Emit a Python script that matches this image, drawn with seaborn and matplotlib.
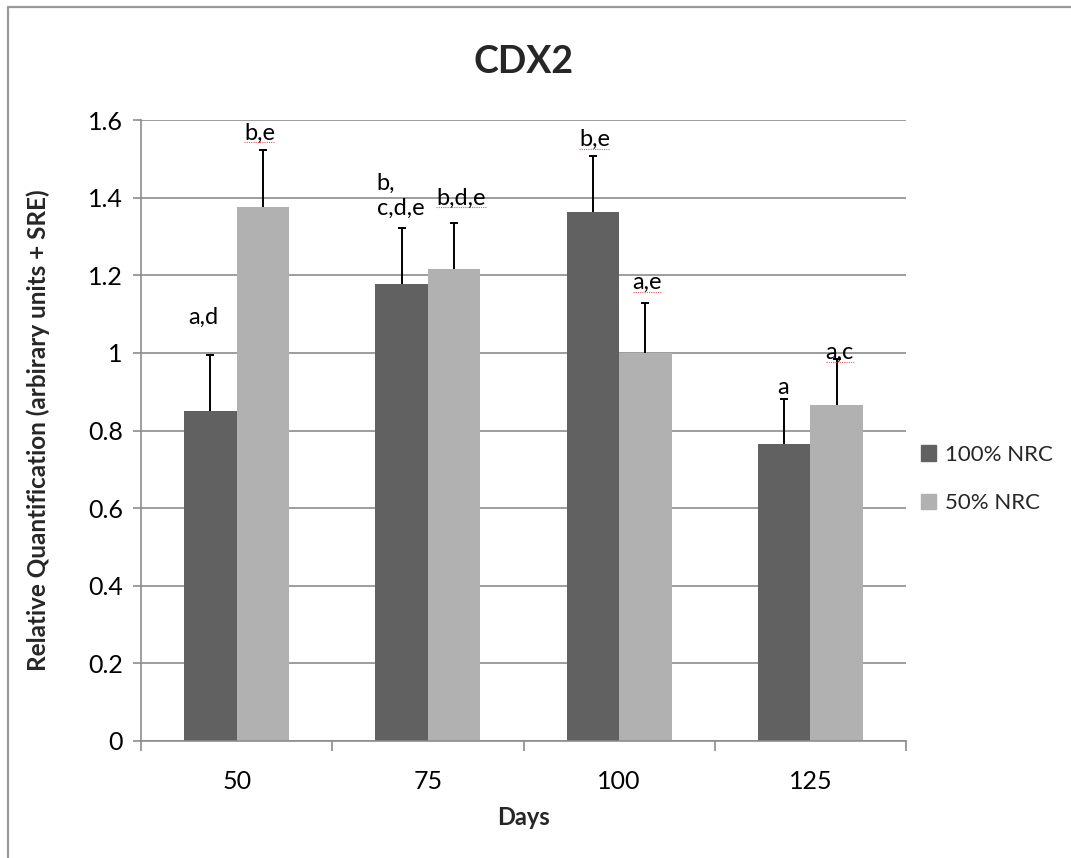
import numpy as np
import pandas as pd
import matplotlib
matplotlib.use("Agg")
import matplotlib.pyplot as plt
import seaborn as sns
from matplotlib.patches import Rectangle
from matplotlib.lines import Line2D
from matplotlib.ticker import FixedLocator, FuncFormatter

# ---- data ----
days = ["50", "75", "100", "125"]
groups = ["100% NRC", "50% NRC"]
rq_100 = [0.850, 1.178, 1.363, 0.765]
rq_50 = [1.376, 1.216, 1.000, 0.866]
sre_100 = [0.145, 0.144, 0.144, 0.116]
sre_50 = [0.147, 0.119, 0.128, 0.118]
letters_100 = ["a,d", "b,\nc,d,e", "b,e", "a"]
letters_50 = ["b,e", "b,d,e", "a,e", "a,c"]
# letters flagged by the spell checker (red dotted underline)
flag_100 = [False, False, True, False]
flag_50 = [True, True, True, True]

# label offsets from the top of each error bar (pixels)
off_100 = [(-7, 37), (-1, 32), (2, 17), (-1, 12)]
off_50 = [(-3, 17), (7, 25), (2, 21), (3, 7)]

df = pd.DataFrame({
    "Days": days * 2,
    "Group": [groups[0]] * 4 + [groups[1]] * 4,
    "RQ": rq_100 + rq_50,
})

sns.set_theme(style="white")
plt.rcParams["font.family"] = ["Lato", "DejaVu Sans"]

dark = "#616161"
light = "#b1b1b1"
gridc = "#8c8c8c"

fig = plt.figure(figsize=(10.71, 8.58), dpi=100)
ax = fig.add_axes([141 / 1071, 1 - 741 / 858, (906 - 141) / 1071, (741 - 120) / 858])

sns.barplot(data=df, x="Days", y="RQ", hue="Group", order=days, hue_order=groups,
            palette=[dark, light], width=0.55, gap=0, errorbar=None,
            saturation=1, edgecolor="none", linewidth=0, ax=ax, legend=True)

ax.set_ylim(0, 1.6)
ax.set_xlim(-0.5, len(days) - 0.5)
ax.yaxis.set_major_locator(FixedLocator(np.arange(0, 1.61, 0.2)))
ax.yaxis.set_major_formatter(FuncFormatter(lambda v, p: f"{v:g}"))
ax.grid(axis="y", color=gridc, linewidth=1.2)
ax.set_axisbelow(True)

for s in ["top", "right"]:
    ax.spines[s].set_visible(False)
for s in ["left", "bottom"]:
    ax.spines[s].set_color(gridc)
    ax.spines[s].set_linewidth(1.2)

ax.tick_params(axis="y", which="major", length=6, width=1.2, color=gridc,
               direction="out", labelsize=18, pad=7, left=True)
ax.tick_params(axis="x", which="major", length=0, labelsize=18, pad=21)
ax.xaxis.set_minor_locator(FixedLocator(np.arange(-0.5, len(days), 1.0)))
ax.tick_params(axis="x", which="minor", length=7, width=1.2, color=gridc,
               direction="out", bottom=True)
for lab in ax.get_xticklabels() + ax.get_yticklabels():
    lab.set_color("black")

ax.set_xlabel("Days", fontsize=17, fontweight="bold", labelpad=9)
ax.set_ylabel("Relative Quantification (arbirary units + SRE)", fontsize=17.5,
              fontweight="bold", labelpad=27)
ax.set_title("CDX2", fontsize=27, fontweight="bold", pad=34)

# upward-only error bars and significance letters
n = len(days)
bars = ax.patches[:2 * n]
series = [(rq_100, sre_100, letters_100, off_100, flag_100),
          (rq_50, sre_50, letters_50, off_50, flag_50)]
flagged_texts = []
for gi, (vals, errs, lets, offs, flags) in enumerate(series):
    for i in range(n):
        b = bars[gi * n + i]
        xc = b.get_x() + b.get_width() / 2
        eb = ax.errorbar(xc, vals[i], yerr=[[0], [errs[i]]], fmt="none",
                         ecolor="black", elinewidth=1.4, capsize=3, capthick=1.4)
        eb[1][0].set_visible(False)  # no cap at the bar top
        t = ax.annotate(lets[i], (xc, vals[i] + errs[i]), xytext=offs[i],
                        textcoords="offset pixels", ha="center", va="center",
                        multialignment="left", fontsize=17, color="black")
        if flags[i]:
            flagged_texts.append(t)

# legend
handles = [Rectangle((0, 0), 1, 1, color=dark), Rectangle((0, 0), 1, 1, color=light)]
ax.legend(handles, groups, loc="center left", bbox_to_anchor=(912 / 1071, 1 - 479 / 858),
          bbox_transform=fig.transFigure, frameon=False, fontsize=16,
          handlelength=0.7, handleheight=0.7, handletextpad=0.4, labelspacing=1.3,
          borderaxespad=0)

# chart-area frame (top and left edges)
fx, fy = 8 / 1071, 1 - 7 / 858
for xs, ys in [([fx, fx], [0, fy]), ([fx, 1], [fy, fy])]:
    fig.add_artist(Line2D(xs, ys, transform=fig.transFigure, color="#9a9a9a",
                          linewidth=1.6, zorder=0))

# spell-check underlines under flagged letters
fig.canvas.draw()
rend = fig.canvas.get_renderer()
for t in flagged_texts:
    bb = t.get_window_extent(rend)
    y = bb.y0 + 1
    fig.add_artist(Line2D([bb.x0, bb.x1], [y, y], transform=None, color="#e06060",
                          linewidth=0.8, linestyle=(0, (1, 1))))

fig.savefig("out.png", dpi=100)
